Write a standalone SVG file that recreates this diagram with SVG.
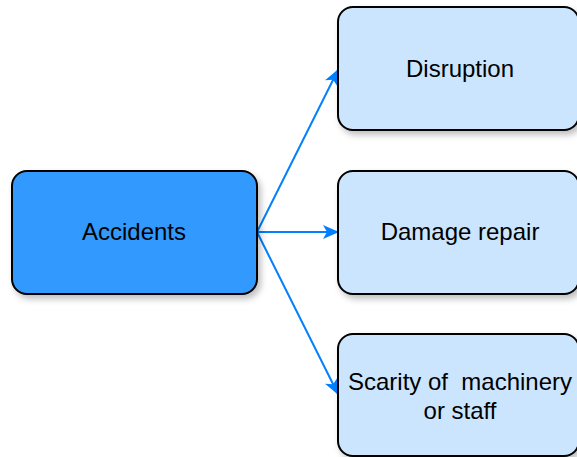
<svg xmlns="http://www.w3.org/2000/svg" width="577" height="457" viewBox="0 0 577 457">
  <style>
    .box { stroke: #000000; stroke-width: 2; filter: url(#shadow); }
    .main { fill: #3399FF; }
    .sub { fill: #CCE5FF; }
    .label { font-family: "Liberation Sans", Arial, sans-serif; font-size: 24px; fill: #000000; text-anchor: middle; }
    .edge { stroke: #007FFF; stroke-width: 2; fill: none; marker-end: url(#arrow); }
  </style>
  <defs>
    <filter id="shadow" x="-20%" y="-20%" width="140%" height="150%">
      <feDropShadow dx="3" dy="4" stdDeviation="3" flood-color="#000000" flood-opacity="0.25"/>
    </filter>
    <marker id="arrow" viewBox="0 0 16 14" refX="15" refY="7" markerWidth="16" markerHeight="14" markerUnits="userSpaceOnUse" orient="auto">
      <path d="M0,0 L16,7 L0,14 L4,7 Z" fill="#007FFF"/>
    </marker>
  </defs>
  <rect width="577" height="457" fill="#FFFFFF"/>
  <g id="connectors">
    <path class="edge" d="M257,232 L338,70"/>
    <path class="edge" d="M257,232 L338,232"/>
    <path class="edge" d="M257,232 L338,394"/>
  </g>
  <g id="accidents">
    <rect class="box main" x="12" y="171" width="245" height="123" rx="15" ry="15"/>
    <text class="label" x="134" y="240">Accidents</text>
  </g>
  <g id="disruption">
    <rect class="box sub" x="338" y="7" width="241" height="123" rx="15" ry="15"/>
    <text class="label" x="460" y="77">Disruption</text>
  </g>
  <g id="damage-repair">
    <rect class="box sub" x="338" y="171" width="241" height="123" rx="15" ry="15"/>
    <text class="label" x="460" y="240">Damage repair</text>
  </g>
  <g id="scarity">
    <rect class="box sub" x="338" y="334" width="241" height="122" rx="15" ry="15"/>
    <text class="label" x="460" y="390" xml:space="preserve">Scarity of  machinery</text>
    <text class="label" x="460" y="419">or staff</text>
  </g>
</svg>
